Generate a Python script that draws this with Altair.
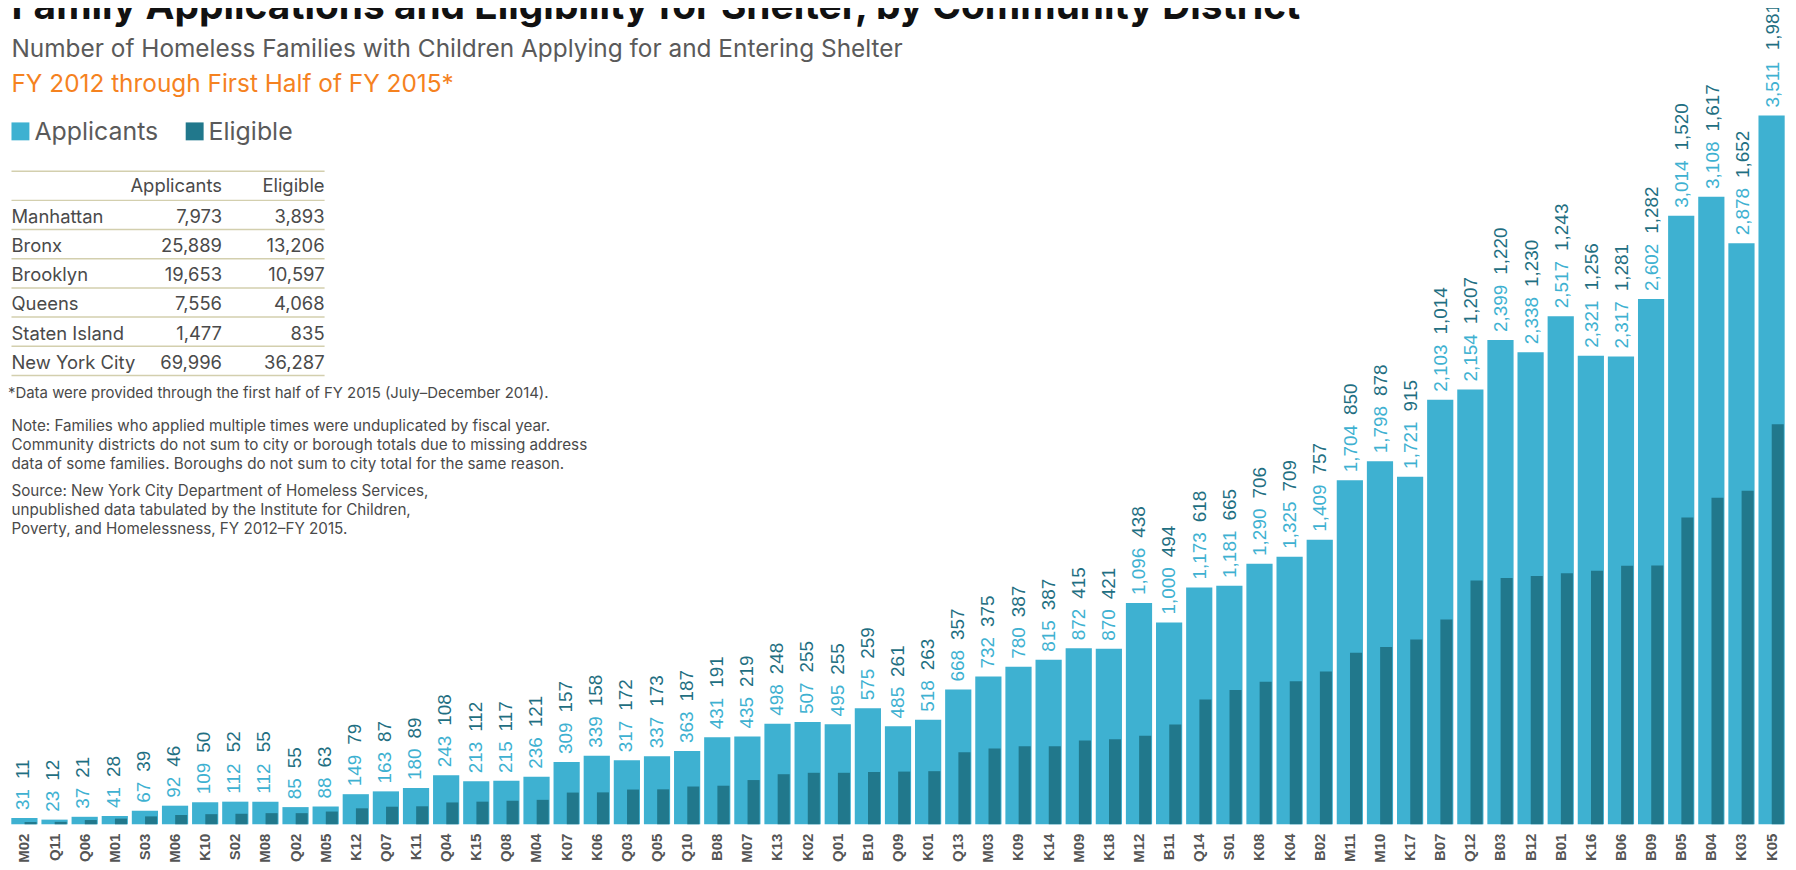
import altair as alt
import pandas as pd

# ---------------- data ----------------
districts = ["M02", "Q11", "Q06", "M01", "S03", "M06", "K10", "S02", "M08", "Q02",
             "M05", "K12", "Q07", "K11", "Q04", "K15", "Q08", "M04", "K07", "K06",
             "Q03", "Q05", "Q10", "B08", "M07", "K13", "K02", "Q01", "B10", "Q09",
             "K01", "Q13", "M03", "K09", "K14", "M09", "K18", "M12", "B11", "Q14",
             "S01", "K08", "K04", "B02", "M11", "M10", "K17", "B07", "Q12", "B03",
             "B12", "B01", "K16", "B06", "B09", "B05", "B04", "K03", "K05"]
applicants = [31, 23, 37, 41, 67, 92, 109, 112, 112, 85,
              88, 149, 163, 180, 243, 213, 215, 236, 309, 339,
              317, 337, 363, 431, 435, 498, 507, 495, 575, 485,
              518, 668, 732, 780, 815, 872, 870, 1096, 1000, 1173,
              1181, 1290, 1325, 1409, 1704, 1798, 1721, 2103, 2154, 2399,
              2338, 2517, 2321, 2317, 2602, 3014, 3108, 2878, 3511]
eligible = [11, 12, 21, 28, 39, 46, 50, 52, 55, 55,
            63, 79, 87, 89, 108, 112, 117, 121, 157, 158,
            172, 173, 187, 191, 219, 248, 255, 255, 259, 261,
            263, 357, 375, 387, 387, 415, 421, 438, 494, 618,
            665, 706, 709, 757, 850, 878, 915, 1014, 1207, 1220,
            1230, 1243, 1256, 1281, 1282, 1520, 1617, 1652, 1981]

boroughs = ["Manhattan", "Bronx", "Brooklyn", "Queens", "Staten Island", "New York City"]
boro_applicants = [7973, 25889, 19653, 7556, 1477, 69996]
boro_eligible = [3893, 13206, 10597, 4068, 835, 36287]

title_text = "Family Applications and Eligibility for Shelter, by Community District"
subtitle_text = "Number of Homeless Families with Children Applying for and Entering Shelter"
period_text = "FY 2012 through First Half of FY 2015*"
legend_labels = ["Applicants", "Eligible"]
footnote_text = "*Data were provided through the first half of FY 2015 (July\u2013December 2014)."
note_lines = ["Note: Families who applied multiple times were unduplicated by fiscal year.",
              "Community districts do not sum to city or borough totals due to missing address",
              "data of some families. Boroughs do not sum to city total for the same reason."]
source_lines = ["Source: New York City Department of Homeless Services,",
                "unpublished data tabulated by the Institute for Children,",
                "Poverty, and Homelessness, FY 2012\u2013FY 2015."]

# ---------------- style / layout ----------------
LIGHT = "#3EB1D1"
DARK = "#21788C"
DARK_TXT = "#1F6F82"
ORANGE = "#F5821F"
RULE = "#D3CFAE"
TXT = "#4A4A4A"
SUB = "#5A5A5A"
LEFT_FONT = "Inter"
NUM_FONT = "Liberation Sans"

W, H = 1788, 818
YMAX = 4034
PX_PER_UNIT = H / YMAX
LABEL_FS = 19
LABEL_DX = 8
LABEL_GAP = 10
TAB_FS = 18.5
NOTE_FS = 15.3


def text_width(s, fs):
    return fs * sum(0.278 if ch == "," else 0.556 for ch in s)


df = pd.DataFrame({"District": districts, "Applicants": applicants, "Eligible": eligible})
df["app_label"] = [f"{v:,}" for v in applicants]
df["elig_label"] = [f"{v:,}" for v in eligible]
df["elig_pos"] = [a + (text_width(s, LABEL_FS) + LABEL_GAP) / PX_PER_UNIT
                  for a, s in zip(applicants, df["app_label"])]

xscale = alt.Scale(paddingInner=0.13, paddingOuter=0.11)
yscale = alt.Scale(domain=[0, YMAX], nice=False, zero=True)


def xenc(axis=None):
    return alt.X("District:N", sort=districts, scale=xscale, axis=axis)


x_axis = alt.Axis(title=None, labelAngle=270, labelFont=NUM_FONT, labelFontWeight="bold",
                  labelFontSize=15, labelColor="#555555", ticks=False, domain=False,
                  labelPadding=9, grid=False)

base = alt.Chart(df)
bars_app = base.mark_bar(color=LIGHT).encode(
    x=xenc(x_axis), y=alt.Y("Applicants:Q", scale=yscale, axis=None))
bars_elig = base.mark_bar(color=DARK, width=alt.RelativeBandSize(0.46), xOffset=6.2).encode(
    x=xenc(), y=alt.Y("Eligible:Q", scale=yscale, axis=None))
lab_app = base.mark_text(angle=270, align="left", baseline="middle", dx=LABEL_DX,
                         font=NUM_FONT, fontSize=LABEL_FS, color=LIGHT).encode(
    x=xenc(), y=alt.Y("Applicants:Q", scale=yscale, axis=None), text="app_label:N")
lab_elig = base.mark_text(angle=270, align="left", baseline="middle", dx=LABEL_DX,
                          font=NUM_FONT, fontSize=LABEL_FS, color=DARK_TXT).encode(
    x=xenc(), y=alt.Y("elig_pos:Q", scale=yscale, axis=None), text="elig_label:N")


def label(text, x, y, size, color, weight="normal", align="left", font=LEFT_FONT):
    return alt.Chart(pd.DataFrame({"t": [text]})).mark_text(
        align=align, baseline="alphabetic", font=font, fontSize=size,
        fontWeight=weight, color=color).encode(text="t:N", x=alt.value(x), y=alt.value(y))


title = label(title_text, 3.5, 9, 39, "#111111", weight="bold")
subtitle = label(subtitle_text, 3.5, 47, 24.5, SUB)
period = label(period_text, 3.5, 82, 24.5, ORANGE)

# legend
legend_layers = []
for i, (nm, col) in enumerate(zip(legend_labels, [LIGHT, DARK])):
    x0 = 3.5 + i * 175
    legend_layers.append(
        alt.Chart(pd.DataFrame({"n": [nm]})).mark_rect(color=col).encode(
            x=alt.value(x0), x2=alt.value(x0 + 18), y=alt.value(113), y2=alt.value(131)))
    legend_layers.append(label(nm, x0 + 23, 131, 25, SUB))

# table
tab = pd.DataFrame({"name": boroughs,
                    "app": [f"{v:,}" for v in boro_applicants],
                    "elig": [f"{v:,}" for v in boro_eligible],
                    "row": list(range(len(boroughs)))})
tbase = alt.Chart(tab).transform_calculate(ypx="213 + datum.row * 29.3")
t_names = tbase.mark_text(align="left", font=LEFT_FONT, fontSize=TAB_FS, color=TXT, dy=-5).encode(
    text="name:N", x=alt.value(3.5), y=alt.Y("ypx:Q", scale=None, axis=None))
t_app = tbase.mark_text(align="right", font=LEFT_FONT, fontSize=TAB_FS, color=TXT, dy=-5).encode(
    text="app:N", x=alt.value(215), y=alt.Y("ypx:Q", scale=None, axis=None))
t_elig = tbase.mark_text(align="right", font=LEFT_FONT, fontSize=TAB_FS, color=TXT, dy=-5).encode(
    text="elig:N", x=alt.value(318), y=alt.Y("ypx:Q", scale=None, axis=None))
h_app = label("Applicants", 215, 183, TAB_FS, TXT, align="right")
h_elig = label("Eligible", 318, 183, TAB_FS, TXT, align="right")
rules = alt.Chart(pd.DataFrame({"i": list(range(len(boroughs) + 2))})).transform_calculate(
    ly="162 + datum.i * 29.3").mark_rule(color=RULE, strokeWidth=1.5).encode(
    x=alt.value(3.5), x2=alt.value(318), y=alt.Y("ly:Q", scale=None, axis=None))

foot = label(footnote_text, 0, 390, 15, TXT)
notes = alt.Chart(pd.DataFrame({"t": note_lines, "i": range(len(note_lines))})).transform_calculate(
    ypx="418 + datum.i * 19").mark_text(align="left", font=LEFT_FONT, fontSize=NOTE_FS, color=TXT).encode(
    text="t:N", x=alt.value(3.5), y=alt.Y("ypx:Q", scale=None, axis=None))
sources = alt.Chart(pd.DataFrame({"t": source_lines, "i": range(len(source_lines))})).transform_calculate(
    ypx="483 + datum.i * 19").mark_text(align="left", font=LEFT_FONT, fontSize=NOTE_FS, color=TXT).encode(
    text="t:N", x=alt.value(3.5), y=alt.Y("ypx:Q", scale=None, axis=None))

chart = alt.layer(
    bars_app, bars_elig, lab_app, lab_elig,
    title, subtitle, period, *legend_layers,
    rules, h_app, h_elig, t_names, t_app, t_elig,
    foot, notes, sources,
).resolve_scale(x="independent", y="independent").properties(
    width=W, height=H,
    autosize=alt.AutoSizeParams(type="none"),
    padding={"left": 0, "top": 0, "right": 0, "bottom": 44},
    background="white",
).configure_view(stroke=None)

chart.save("out.html", embed_options={"renderer": "svg", "actions": False})
